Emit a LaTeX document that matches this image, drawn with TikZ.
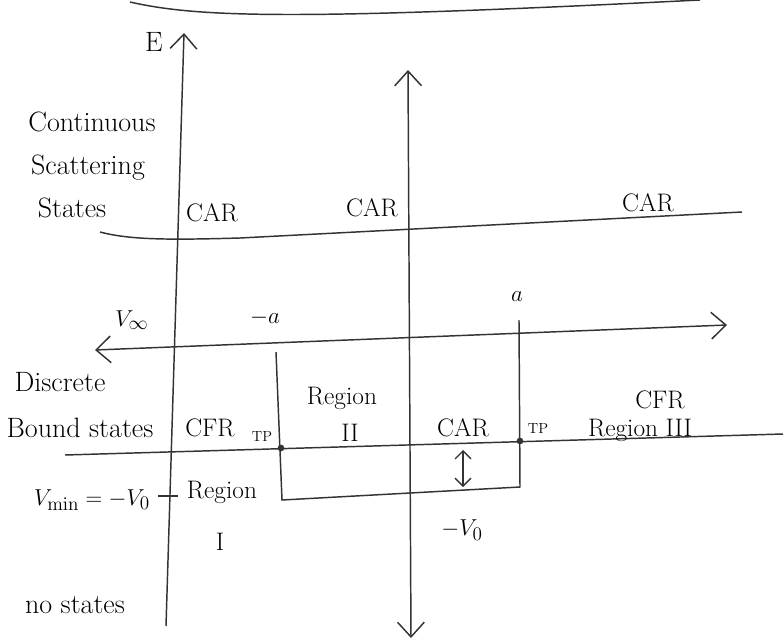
\documentclass[tikz,border=0pt]{standalone}
\usetikzlibrary{arrows.meta}
\tikzset{bigb/.tip={Straight Barb[length=11pt,width=20pt,line width=1.1pt]},
  smb/.tip={Straight Barb[length=6pt,width=12pt,line width=1pt]}}
\begin{document}
\begin{tikzpicture}[x=0.75pt,y=-0.75pt,
  ln/.style={line width=1.1pt,black!80},
  lbl/.style={font=\fontsize{19}{21}\selectfont,inner sep=1pt},
  big/.style={font=\fontsize{21}{23}\selectfont,inner sep=1pt},
  sml/.style={font=\fontsize{11}{12}\selectfont,inner sep=1pt},
  dot/.style={circle,fill=black!80,inner sep=0pt,minimum size=5pt}]
\useasboundingbox (0,0) rectangle (783,639);
% top cut-off curve
\coordinate (t1) at (130,2);
\coordinate (t2) at (700,0);
\draw[ln] (t1) .. controls (200,18) and (300,20) .. (t2);
% coordinates
\coordinate (LAb) at (166,626);
\coordinate (LAt) at (184,33);
\coordinate (MAb) at (411,638);
\coordinate (MAt) at (408,70);
\coordinate (C1) at (100,232);
\coordinate (C2) at (742,212);
\coordinate (XL) at (95,350);
\coordinate (XR) at (727,325);
\coordinate (Ml) at (276,352);
\coordinate (Mr) at (519,320);
\coordinate (Bl) at (282,500);
\coordinate (Br) at (520,487);
\coordinate (E1) at (65,455);
\coordinate (E2) at (783,434);
\coordinate (D1) at (463,450);
\coordinate (D2) at (463,487);
\coordinate (T1) at (158,496);
\coordinate (T2) at (178,496);
% axes
\draw[ln,-{bigb}] (LAb) -- (LAt);
\draw[ln,{bigb}-{bigb}] (MAb) -- (MAt);
% continuum line
\draw[ln] (C1) .. controls (130,240) and (170,240) .. (240,238) -- (C2);
% x axis
\draw[ln,{bigb}-{bigb}] (XL) -- (XR);
% well
\draw[ln] (Ml) -- (Bl) -- (Br) -- (Mr);
% energy line
\draw[ln] (E1) -- (E2);
\node[dot] (tp1) at (281,448) {};
\node[dot] (tp2) at (520,441) {};
% double arrow
\draw[ln,{smb}-{smb}] (D1) -- (D2);
% tick
\draw[ln] (T1) -- (T2);
% labels
\node[big] (E) at (154,42) {E};
\node[big] (cont) at (92,122) {Continuous};
\node[big] (scat) at (88,168) {Scattering};
\node[big] (stat) at (72,208) {States};
\node[lbl] (car1) at (212,213) {CAR};
\node[lbl] (car2) at (372,208) {CAR};
\node[lbl] (car3) at (648,203) {CAR};
\node[lbl] (vinf) at (132,320) {$V_\infty$};
\node[lbl] (ma) at (265,318) {$-a$};
\node[lbl] (pa) at (517,297) {$a$};
\node[big] (disc) at (60,382) {Discrete};
\node[big] (bound) at (80,428) {Bound states};
\node[lbl] (cfr1) at (210,428) {CFR};
\node[sml] (tpa) at (262,436) {TP};
\node[lbl] (reg2) at (342,398) {Region};
\node[lbl] (r2) at (350,433) {II};
\node[lbl] (car4) at (463,428) {CAR};
\node[sml] (tpb) at (538,428) {TP};
\node[lbl] (cfr3) at (660,400) {CFR};
\node[lbl] (reg3) at (640,430) {Region III};
\node[lbl] (vmin) at (92,500) {$V_{\min}=-V_0$};
\node[lbl] (reg1) at (222,492) {Region};
\node[lbl] (r1) at (220,542) {I};
\node[lbl] (mv0) at (462,530) {$-V_0$};
\node[big] (nost) at (75,605) {no states};
\end{tikzpicture}
\end{document}
